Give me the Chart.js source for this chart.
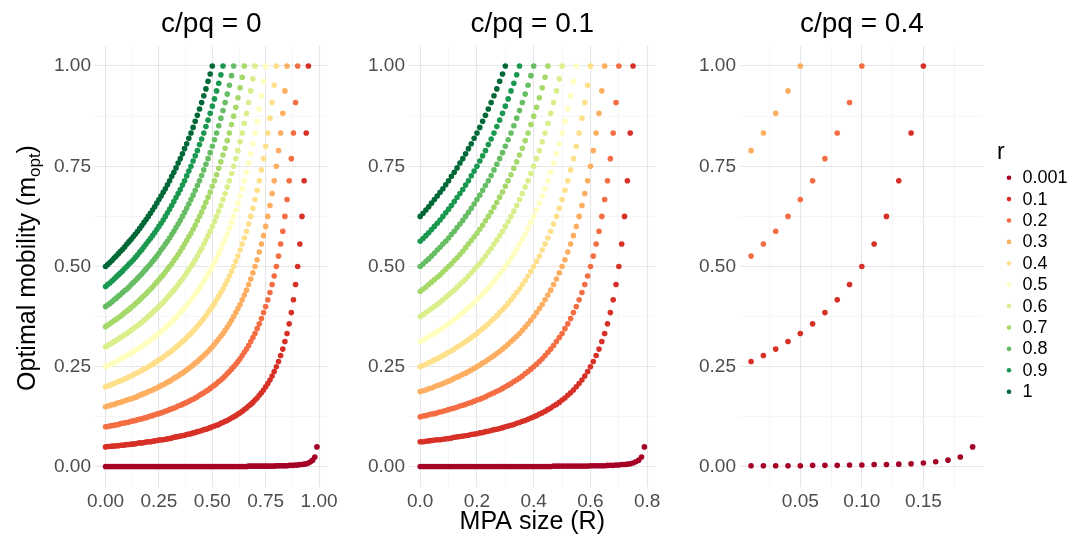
<!DOCTYPE html>
<html>
<head>
<meta charset="utf-8">
<script src="https://cdn.jsdelivr.net/npm/chart.js@4.4.1/dist/chart.umd.min.js"></script>
<style>
  body { margin: 0; background: #fff; width: 1084px; height: 537px; overflow: hidden; position: relative; }
  .panel { position: absolute; top: 0; height: 537px; }
</style>
</head>
<body>
<div class="panel" style="left:0;width:340px"><canvas id="panel0" width="340" height="537"></canvas></div>
<div class="panel" style="left:340px;width:340px"><canvas id="panel1" width="340" height="537"></canvas></div>
<div class="panel" style="left:680px;width:404px"><canvas id="panel4" width="404" height="537"></canvas></div>
<script>
// legend / colours
const rLabels = ['0.001', '0.1', '0.2', '0.3', '0.4', '0.5', '0.6', '0.7', '0.8', '0.9', '1'];
const rColors = ['#A50026', '#D73027', '#F46D43', '#FDAE61', '#FEE08B', '#FFFFBF', '#D9EF8B', '#A6D96A', '#66BD63', '#1A9850', '#006837'];
const panelTitles = ['c/pq = 0', 'c/pq = 0.1', 'c/pq = 0.4'];

// axis ticks (empty label = minor grid line)
const yTicks = [0, 0.125, 0.25, 0.375, 0.5, 0.625, 0.75, 0.875, 1];
const yTickLabels = ['0.00', '', '0.25', '', '0.50', '', '0.75', '', '1.00'];
const x0Ticks = [0, 0.125, 0.25, 0.375, 0.5, 0.625, 0.75, 0.875, 1];
const x0TickLabels = ['0.00', '', '0.25', '', '0.50', '', '0.75', '', '1.00'];
const x1Ticks = [0, 0.1, 0.2, 0.3, 0.4, 0.5, 0.6, 0.7, 0.8];
const x1TickLabels = ['0.0', '', '0.2', '', '0.4', '', '0.6', '', '0.8'];
const x4Ticks = [0.025, 0.05, 0.075, 0.1, 0.125, 0.15, 0.175];
const x4TickLabels = ['', '0.05', '', '0.10', '', '0.15', ''];

// MPA size (R) for each panel
const R0 = [0.00,0.01,0.02,0.03,0.04,0.05,0.06,0.07,0.08,0.09,
  0.10,0.11,0.12,0.13,0.14,0.15,0.16,0.17,0.18,0.19,
  0.20,0.21,0.22,0.23,0.24,0.25,0.26,0.27,0.28,0.29,
  0.30,0.31,0.32,0.33,0.34,0.35,0.36,0.37,0.38,0.39,
  0.40,0.41,0.42,0.43,0.44,0.45,0.46,0.47,0.48,0.49,
  0.50,0.51,0.52,0.53,0.54,0.55,0.56,0.57,0.58,0.59,
  0.60,0.61,0.62,0.63,0.64,0.65,0.66,0.67,0.68,0.69,
  0.70,0.71,0.72,0.73,0.74,0.75,0.76,0.77,0.78,0.79,
  0.80,0.81,0.82,0.83,0.84,0.85,0.86,0.87,0.88,0.89,
  0.90,0.91,0.92,0.93,0.94,0.95,0.96,0.97,0.98,0.99];
const R1 = [0.00,0.01,0.02,0.03,0.04,0.05,0.06,0.07,0.08,0.09,
  0.10,0.11,0.12,0.13,0.14,0.15,0.16,0.17,0.18,0.19,
  0.20,0.21,0.22,0.23,0.24,0.25,0.26,0.27,0.28,0.29,
  0.30,0.31,0.32,0.33,0.34,0.35,0.36,0.37,0.38,0.39,
  0.40,0.41,0.42,0.43,0.44,0.45,0.46,0.47,0.48,0.49,
  0.50,0.51,0.52,0.53,0.54,0.55,0.56,0.57,0.58,0.59,
  0.60,0.61,0.62,0.63,0.64,0.65,0.66,0.67,0.68,0.69,
  0.70,0.71,0.72,0.73,0.74,0.75,0.76,0.77,0.78,0.79];
const R4 = [0.01,0.02,0.03,0.04,0.05,0.06,0.07,0.08,0.09,0.10,
  0.11,0.12,0.13,0.14,0.15,0.16,0.17,0.18,0.19];

// optimal mobility, c/pq = 0
const c0r0001 = [0.001,0.001,0.001,0.001,0.001,0.001,0.001,0.001,0.001,0.001,
  0.001,0.001,0.001,0.001,0.001,0.001,0.001,0.001,0.001,0.001,
  0.001,0.001,0.001,0.001,0.001,0.001,0.001,0.001,0.001,0.001,
  0.001,0.001,0.001,0.001,0.001,0.001,0.001,0.001,0.001,0.001,
  0.001,0.001,0.001,0.001,0.001,0.001,0.001,0.001,0.001,0.001,
  0.001,0.001,0.001,0.001,0.001,0.001,0.001,0.001,0.001,0.001,
  0.001,0.001,0.001,0.001,0.001,0.001,0.001,
  0.002,0.002,0.002,0.002,0.002,0.002,0.002,0.002,0.002,0.002,0.002,0.002,0.002,
  0.003,0.003,0.003,0.003,0.003,0.003,0.004,0.004,0.004,0.005,0.005,
  0.006,0.006,0.007,0.008,0.010,0.013,0.017,0.025,0.050];
const c0r01 = [0.050,0.051,0.051,0.052,0.052,0.053,0.053,0.054,0.054,0.055,
  0.056,0.056,0.057,0.057,0.058,0.059,0.060,0.060,0.061,0.062,
  0.063,0.063,0.064,0.065,0.066,0.067,0.068,0.068,0.069,0.070,
  0.071,0.072,0.074,0.075,0.076,0.077,0.078,0.079,0.081,0.082,
  0.083,0.085,0.086,0.088,0.089,0.091,0.093,0.094,0.096,0.098,
  0.100,0.102,0.104,0.106,0.109,0.111,0.114,0.116,0.119,0.122,
  0.125,0.128,0.132,0.135,0.139,0.143,0.147,0.152,0.156,0.161,
  0.167,0.172,0.179,0.185,0.192,0.200,0.208,0.217,0.227,0.238,
  0.250,0.263,0.278,0.294,0.313,0.333,0.357,0.385,0.417,0.455,
  0.500,0.556,0.625,0.714,0.833,1.000];
const c0r02 = [0.100,0.101,0.102,0.103,0.104,0.105,0.106,0.108,0.109,0.110,
  0.111,0.112,0.114,0.115,0.116,0.118,0.119,0.120,0.122,0.123,
  0.125,0.127,0.128,0.130,0.132,0.133,0.135,0.137,0.139,0.141,
  0.143,0.145,0.147,0.149,0.152,0.154,0.156,0.159,0.161,0.164,
  0.167,0.169,0.172,0.175,0.179,0.182,0.185,0.189,0.192,0.196,
  0.200,0.204,0.208,0.213,0.217,0.222,0.227,0.233,0.238,0.244,
  0.250,0.256,0.263,0.270,0.278,0.286,0.294,0.303,0.313,0.323,
  0.333,0.345,0.357,0.370,0.385,0.400,0.417,0.435,0.455,0.476,
  0.500,0.526,0.556,0.588,0.625,0.667,0.714,0.769,0.833,0.909,
  1.000];
const c0r03 = [0.150,0.152,0.153,0.155,0.156,0.158,0.160,0.161,0.163,0.165,
  0.167,0.169,0.170,0.172,0.174,0.176,0.179,0.181,0.183,0.185,
  0.188,0.190,0.192,0.195,0.197,0.200,0.203,0.205,0.208,0.211,
  0.214,0.217,0.221,0.224,0.227,0.231,0.234,0.238,0.242,0.246,
  0.250,0.254,0.259,0.263,0.268,0.273,0.278,0.283,0.288,0.294,
  0.300,0.306,0.313,0.319,0.326,0.333,0.341,0.349,0.357,0.366,
  0.375,0.385,0.395,0.405,0.417,0.429,0.441,0.455,0.469,0.484,
  0.500,0.517,0.536,0.556,0.577,0.600,0.625,0.652,0.682,0.714,
  0.750,0.789,0.833,0.882,0.938,1.000];
const c0r04 = [0.200,0.202,0.204,0.206,0.208,0.211,0.213,0.215,0.217,0.220,
  0.222,0.225,0.227,0.230,0.233,0.235,0.238,0.241,0.244,0.247,
  0.250,0.253,0.256,0.260,0.263,0.267,0.270,0.274,0.278,0.282,
  0.286,0.290,0.294,0.299,0.303,0.308,0.313,0.317,0.323,0.328,
  0.333,0.339,0.345,0.351,0.357,0.364,0.370,0.377,0.385,0.392,
  0.400,0.408,0.417,0.426,0.435,0.444,0.455,0.465,0.476,0.488,
  0.500,0.513,0.526,0.541,0.556,0.571,0.588,0.606,0.625,0.645,
  0.667,0.690,0.714,0.741,0.769,0.800,0.833,0.870,0.909,0.952,
  1.000];
const c0r05 = [0.250,0.253,0.255,0.258,0.260,0.263,0.266,0.269,0.272,0.275,
  0.278,0.281,0.284,0.287,0.291,0.294,0.298,0.301,0.305,0.309,
  0.313,0.316,0.321,0.325,0.329,0.333,0.338,0.342,0.347,0.352,
  0.357,0.362,0.368,0.373,0.379,0.385,0.391,0.397,0.403,0.410,
  0.417,0.424,0.431,0.439,0.446,0.455,0.463,0.472,0.481,0.490,
  0.500,0.510,0.521,0.532,0.543,0.556,0.568,0.581,0.595,0.610,
  0.625,0.641,0.658,0.676,0.694,0.714,0.735,0.758,0.781,0.806,
  0.833,0.862,0.893,0.926,0.962,1.000];
const c0r06 = [0.300,0.303,0.306,0.309,0.313,0.316,0.319,0.323,0.326,0.330,
  0.333,0.337,0.341,0.345,0.349,0.353,0.357,0.361,0.366,0.370,
  0.375,0.380,0.385,0.390,0.395,0.400,0.405,0.411,0.417,0.423,
  0.429,0.435,0.441,0.448,0.455,0.462,0.469,0.476,0.484,0.492,
  0.500,0.508,0.517,0.526,0.536,0.545,0.556,0.566,0.577,0.588,
  0.600,0.612,0.625,0.638,0.652,0.667,0.682,0.698,0.714,0.732,
  0.750,0.769,0.789,0.811,0.833,0.857,0.882,0.909,0.938,0.968,
  1.000];
const c0r07 = [0.350,0.354,0.357,0.361,0.365,0.368,0.372,0.376,0.380,0.385,
  0.389,0.393,0.398,0.402,0.407,0.412,0.417,0.422,0.427,0.432,
  0.438,0.443,0.449,0.455,0.461,0.467,0.473,0.479,0.486,0.493,
  0.500,0.507,0.515,0.522,0.530,0.538,0.547,0.556,0.565,0.574,
  0.583,0.593,0.603,0.614,0.625,0.636,0.648,0.660,0.673,0.686,
  0.700,0.714,0.729,0.745,0.761,0.778,0.795,0.814,0.833,0.854,
  0.875,0.897,0.921,0.946,0.972,1.000];
const c0r08 = [0.400,0.404,0.408,0.412,0.417,0.421,0.426,0.430,0.435,0.440,
  0.444,0.449,0.455,0.460,0.465,0.471,0.476,0.482,0.488,0.494,
  0.500,0.506,0.513,0.519,0.526,0.533,0.541,0.548,0.556,0.563,
  0.571,0.580,0.588,0.597,0.606,0.615,0.625,0.635,0.645,0.656,
  0.667,0.678,0.690,0.702,0.714,0.727,0.741,0.755,0.769,0.784,
  0.800,0.816,0.833,0.851,0.870,0.889,0.909,0.930,0.952,0.976,
  1.000];
const c0r09 = [0.450,0.455,0.459,0.464,0.469,0.474,0.479,0.484,0.489,0.495,
  0.500,0.506,0.511,0.517,0.523,0.529,0.536,0.542,0.549,0.556,
  0.563,0.570,0.577,0.584,0.592,0.600,0.608,0.616,0.625,0.634,
  0.643,0.652,0.662,0.672,0.682,0.692,0.703,0.714,0.726,0.738,
  0.750,0.763,0.776,0.789,0.804,0.818,0.833,0.849,0.865,0.882,
  0.900,0.918,0.938,0.957,0.978,1.000];
const c0r1 = [0.500,0.505,0.510,0.515,0.521,0.526,0.532,0.538,0.543,0.549,
  0.556,0.562,0.568,0.575,0.581,0.588,0.595,0.602,0.610,0.617,
  0.625,0.633,0.641,0.649,0.658,0.667,0.676,0.685,0.694,0.704,
  0.714,0.725,0.735,0.746,0.758,0.769,0.781,0.794,0.806,0.820,
  0.833,0.847,0.862,0.877,0.893,0.909,0.926,0.943,0.962,0.980,
  1.000];

// optimal mobility, c/pq = 0.1
const c1r0001 = [0.001,0.001,0.001,0.001,0.001,0.001,0.001,0.001,0.001,0.001,
  0.001,0.001,0.001,0.001,0.001,0.001,0.001,0.001,0.001,0.001,
  0.001,0.001,0.001,0.001,0.001,0.001,0.001,0.001,0.001,0.001,
  0.001,0.001,0.001,0.001,0.001,0.001,0.001,0.001,0.001,0.001,
  0.001,0.001,0.001,0.001,0.001,0.001,0.001,
  0.002,0.002,0.002,0.002,0.002,0.002,0.002,0.002,0.002,0.002,0.002,0.002,0.002,
  0.003,0.003,0.003,0.003,0.003,0.003,0.004,0.004,0.004,0.005,0.005,
  0.006,0.006,0.007,0.008,0.010,0.013,0.017,0.025,0.050];
const c1r01 = [0.063,0.063,0.064,0.065,0.066,0.067,0.068,0.068,0.069,0.070,
  0.071,0.072,0.074,0.075,0.076,0.077,0.078,0.079,0.081,0.082,
  0.083,0.085,0.086,0.088,0.089,0.091,0.093,0.094,0.096,0.098,
  0.100,0.102,0.104,0.106,0.109,0.111,0.114,0.116,0.119,0.122,
  0.125,0.128,0.132,0.135,0.139,0.143,0.147,0.152,0.156,0.161,
  0.167,0.172,0.179,0.185,0.192,0.200,0.208,0.217,0.227,0.238,
  0.250,0.263,0.278,0.294,0.313,0.333,0.357,0.385,0.417,0.455,
  0.500,0.556,0.625,0.714,0.833,1.000];
const c1r02 = [0.125,0.127,0.128,0.130,0.132,0.133,0.135,0.137,0.139,0.141,
  0.143,0.145,0.147,0.149,0.152,0.154,0.156,0.159,0.161,0.164,
  0.167,0.169,0.172,0.175,0.179,0.182,0.185,0.189,0.192,0.196,
  0.200,0.204,0.208,0.213,0.217,0.222,0.227,0.233,0.238,0.244,
  0.250,0.256,0.263,0.270,0.278,0.286,0.294,0.303,0.313,0.323,
  0.333,0.345,0.357,0.370,0.385,0.400,0.417,0.435,0.455,0.476,
  0.500,0.526,0.556,0.588,0.625,0.667,0.714,0.769,0.833,0.909,
  1.000];
const c1r03 = [0.188,0.190,0.192,0.195,0.197,0.200,0.203,0.205,0.208,0.211,
  0.214,0.217,0.221,0.224,0.227,0.231,0.234,0.238,0.242,0.246,
  0.250,0.254,0.259,0.263,0.268,0.273,0.278,0.283,0.288,0.294,
  0.300,0.306,0.313,0.319,0.326,0.333,0.341,0.349,0.357,0.366,
  0.375,0.385,0.395,0.405,0.417,0.429,0.441,0.455,0.469,0.484,
  0.500,0.517,0.536,0.556,0.577,0.600,0.625,0.652,0.682,0.714,
  0.750,0.789,0.833,0.882,0.938,1.000];
const c1r04 = [0.250,0.253,0.256,0.260,0.263,0.267,0.270,0.274,0.278,0.282,
  0.286,0.290,0.294,0.299,0.303,0.308,0.313,0.317,0.323,0.328,
  0.333,0.339,0.345,0.351,0.357,0.364,0.370,0.377,0.385,0.392,
  0.400,0.408,0.417,0.426,0.435,0.444,0.455,0.465,0.476,0.488,
  0.500,0.513,0.526,0.541,0.556,0.571,0.588,0.606,0.625,0.645,
  0.667,0.690,0.714,0.741,0.769,0.800,0.833,0.870,0.909,0.952,
  1.000];
const c1r05 = [0.313,0.316,0.321,0.325,0.329,0.333,0.338,0.342,0.347,0.352,
  0.357,0.362,0.368,0.373,0.379,0.385,0.391,0.397,0.403,0.410,
  0.417,0.424,0.431,0.439,0.446,0.455,0.463,0.472,0.481,0.490,
  0.500,0.510,0.521,0.532,0.543,0.556,0.568,0.581,0.595,0.610,
  0.625,0.641,0.658,0.676,0.694,0.714,0.735,0.758,0.781,0.806,
  0.833,0.862,0.893,0.926,0.962,1.000];
const c1r06 = [0.375,0.380,0.385,0.390,0.395,0.400,0.405,0.411,0.417,0.423,
  0.429,0.435,0.441,0.448,0.455,0.462,0.469,0.476,0.484,0.492,
  0.500,0.508,0.517,0.526,0.536,0.545,0.556,0.566,0.577,0.588,
  0.600,0.612,0.625,0.638,0.652,0.667,0.682,0.698,0.714,0.732,
  0.750,0.769,0.789,0.811,0.833,0.857,0.882,0.909,0.938,0.968,
  1.000];
const c1r07 = [0.438,0.443,0.449,0.455,0.461,0.467,0.473,0.479,0.486,0.493,
  0.500,0.507,0.515,0.522,0.530,0.538,0.547,0.556,0.565,0.574,
  0.583,0.593,0.603,0.614,0.625,0.636,0.648,0.660,0.673,0.686,
  0.700,0.714,0.729,0.745,0.761,0.778,0.795,0.814,0.833,0.854,
  0.875,0.897,0.921,0.946,0.972,1.000];
const c1r08 = [0.500,0.506,0.513,0.519,0.526,0.533,0.541,0.548,0.556,0.563,
  0.571,0.580,0.588,0.597,0.606,0.615,0.625,0.635,0.645,0.656,
  0.667,0.678,0.690,0.702,0.714,0.727,0.741,0.755,0.769,0.784,
  0.800,0.816,0.833,0.851,0.870,0.889,0.909,0.930,0.952,0.976,
  1.000];
const c1r09 = [0.563,0.570,0.577,0.584,0.592,0.600,0.608,0.616,0.625,0.634,
  0.643,0.652,0.662,0.672,0.682,0.692,0.703,0.714,0.726,0.738,
  0.750,0.763,0.776,0.789,0.804,0.818,0.833,0.849,0.865,0.882,
  0.900,0.918,0.938,0.957,0.978,1.000];
const c1r1 = [0.625,0.633,0.641,0.649,0.658,0.667,0.676,0.685,0.694,0.704,
  0.714,0.725,0.735,0.746,0.758,0.769,0.781,0.794,0.806,0.820,
  0.833,0.847,0.862,0.877,0.893,0.909,0.926,0.943,0.962,0.980,
  1.000];

// optimal mobility, c/pq = 0.4
const c4r0001 = [0.003,0.003,0.003,0.003,0.003,0.004,0.004,0.004,0.005,0.005,
  0.006,0.006,0.007,0.008,0.010,0.013,0.017,0.025,0.050];
const c4r01 = [0.263,0.278,0.294,0.313,0.333,0.357,0.385,0.417,0.455,0.500,
  0.556,0.625,0.714,0.833,1.000];
const c4r02 = [0.526,0.556,0.588,0.625,0.667,0.714,0.769,0.833,0.909,1.000];
const c4r03 = [0.789,0.833,0.882,0.938,1.000];
const c4rNone = [];

const fontFamily = "'Liberation Sans', Arial, Helvetica, sans-serif";
Chart.defaults.font.family = fontFamily;

const panelText = {
    id: 'panelText',
    afterDraw(chart, args, opts) {
        const ctx = chart.ctx;
        const area = chart.chartArea;
        ctx.save();
        ctx.fillStyle = '#000';
        ctx.textAlign = 'center';
        ctx.textBaseline = 'alphabetic';
        ctx.font = '28px ' + fontFamily;
        ctx.fillText(opts.title, (area.left + area.right) / 2, 32);
        if (opts.extra) {
            opts.extra(ctx, area);
        }
        ctx.restore();
    }
};

function drawYTitle(ctx, area) {
    const main = 'Optimal mobility (m';
    const sub = 'opt';
    const close = ')';
    ctx.translate(35, 268);
    ctx.rotate(-Math.PI / 2);
    ctx.textAlign = 'left';
    ctx.font = '25px ' + fontFamily;
    const w1 = ctx.measureText(main).width;
    const w3 = ctx.measureText(close).width;
    ctx.font = '17px ' + fontFamily;
    const w2 = ctx.measureText(sub).width;
    let x = -(w1 + w2 + w3) / 2;
    ctx.font = '25px ' + fontFamily;
    ctx.fillText(main, x, 0);
    x += w1;
    ctx.font = '17px ' + fontFamily;
    ctx.fillText(sub, x, 5);
    x += w2;
    ctx.font = '25px ' + fontFamily;
    ctx.fillText(close, x, 0);
}

function drawXTitle(ctx, area) {
    ctx.font = '25px ' + fontFamily;
    ctx.fillText('MPA size (R)', (area.left + area.right) / 2, 529);
}

function drawLegend(ctx, area) {
    ctx.textAlign = 'left';
    ctx.font = '23px ' + fontFamily;
    ctx.fillText('r', 317, 159);
    ctx.font = '18px ' + fontFamily;
    ctx.textBaseline = 'middle';
    rLabels.forEach(function (lab, i) {
        const y = 177.7 + 21.4 * i;
        ctx.fillStyle = rColors[i];
        ctx.beginPath();
        ctx.arc(329, y, 2.3, 0, 2 * Math.PI);
        ctx.fill();
        ctx.fillStyle = '#000';
        ctx.fillText(lab, 342.5, y + 0.5);
    });
}

function gridOpts(labels) {
    return {
        drawTicks: false,
        color: c => labels[c.index] === '' ? '#f2f2f2' : '#e6e6e6',
        lineWidth: c => labels[c.index] === '' ? 0.7 : 1.1
    };
}

function createPanel(canvasId, xs, series, xMin, xMax, xTicks, xTickLabels, yWidth, padRight, title, extra) {
    const datasets = series.map(function (ys, i) {
        return {
            label: rLabels[i],
            data: ys.map((y, k) => ({ x: xs[k], y: y })),
            backgroundColor: rColors[i],
            borderColor: rColors[i],
            pointBackgroundColor: rColors[i],
            borderWidth: 0,
            pointBorderWidth: 0,
            pointRadius: 2.8
        };
    });
    return new Chart(document.getElementById(canvasId), {
        type: 'scatter',
        data: { datasets: datasets },
        options: {
            responsive: false,
            animation: false,
            events: [],
            layout: { padding: { top: 46, right: padRight, left: 0, bottom: 0 } },
            plugins: {
                legend: { display: false },
                tooltip: { enabled: false },
                panelText: { title: title, extra: extra }
            },
            scales: {
                x: {
                    type: 'linear',
                    min: xMin,
                    max: xMax,
                    afterBuildTicks: axis => { axis.ticks = xTicks.map(v => ({ value: v })); },
                    afterFit: axis => { axis.height = 50; axis.paddingLeft = 0; axis.paddingRight = 0; },
                    grid: gridOpts(xTickLabels),
                    border: { display: false },
                    ticks: {
                        autoSkip: false,
                        maxRotation: 0,
                        padding: 3,
                        color: '#4d4d4d',
                        font: { size: 19 },
                        callback: (v, i) => xTickLabels[i]
                    }
                },
                y: {
                    min: -0.05,
                    max: 1.05,
                    afterBuildTicks: axis => { axis.ticks = yTicks.map(v => ({ value: v })); },
                    afterFit: axis => { axis.width = yWidth; axis.paddingTop = 0; axis.paddingBottom = 0; },
                    grid: gridOpts(yTickLabels),
                    border: { display: false },
                    ticks: {
                        autoSkip: false,
                        padding: 4,
                        color: '#4d4d4d',
                        font: { size: 19 },
                        callback: (v, i) => yTickLabels[i]
                    }
                }
            }
        },
        plugins: [panelText]
    });
}

createPanel('panel0', R0,
    [c0r0001, c0r01, c0r02, c0r03, c0r04, c0r05, c0r06, c0r07, c0r08, c0r09, c0r1],
    -0.0495, 1.0395, x0Ticks, x0TickLabels, 95, 12.5, panelTitles[0], drawYTitle);

createPanel('panel1', R1,
    [c1r0001, c1r01, c1r02, c1r03, c1r04, c1r05, c1r06, c1r07, c1r08, c1r09, c1r1],
    -0.0395, 0.8295, x1Ticks, x1TickLabels, 69, 24.4, panelTitles[1], drawXTitle);

createPanel('panel4', R4,
    [c4r0001, c4r01, c4r02, c4r03, c4rNone, c4rNone, c4rNone, c4rNone, c4rNone, c4rNone, c4rNone],
    0.001, 0.199, x4Ticks, x4TickLabels, 60, 100.3, panelTitles[2], drawLegend);
</script>
</body>
</html>
